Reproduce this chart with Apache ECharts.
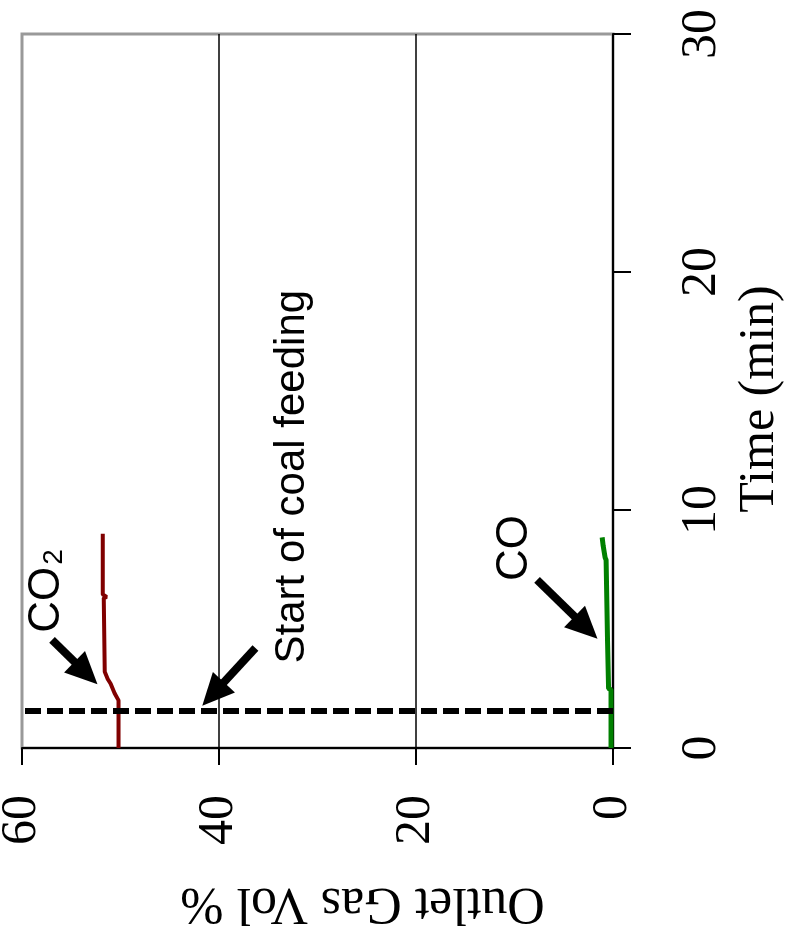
<!DOCTYPE html>
<html><head><meta charset="utf-8">
<script src="https://cdn.jsdelivr.net/npm/echarts@6/dist/echarts.min.js"></script>
<style>html,body{margin:0;padding:0;background:#fff}#c{width:790px;height:937px}</style>
</head><body><div id="c"></div>
<script>
// Time (min) and outlet gas vol %
const co2Time = [0, 2.0, 2.3, 2.7, 2.9, 3.2, 6.3, 6.35, 6.45, 9.0];
const co2Vol  = [50.2, 50.2, 50.6, 51.0, 51.3, 51.6, 51.7, 51.4, 51.8, 51.8];
const coTime  = [0, 2.45, 2.5, 4.4, 7.9, 8.0, 8.5, 8.85];
const coVol   = [0.2, 0.2, 0.45, 0.55, 0.7, 0.8, 1.0, 1.1];
const gasTicks  = [0, 20, 40, 60];
const timeTicks = [0, 10, 20, 30];
const coalFeedTime = 1.55;

// annotations (data space: [gas %, time])
const noteCO2   = [57.5, 6.6];
const noteStart = [32.5, 11.4];
const noteCO    = [9.95, 8.4];
const arrowCO2   = [[56.95, 4.54], [53.5, 3.15]];
const arrowStart = [[36.3, 4.2], [40.6, 2.27]];
const arrowCO    = [[7.71, 7.06], [2.74, 5.06]];

const serif = 'Liberation Serif';
const sans = 'Liberation Sans';

const chart = echarts.init(document.getElementById('c'), null, {renderer: 'canvas'});
const zip = (a, b) => a.map((v, i) => [b[i], v]);

chart.setOption({
  animation: false,
  backgroundColor: '#fff',
  grid: {left: 22, right: 177, top: 34, bottom: 189, containLabel: false, outerBoundsMode: 'none',
         show: true, borderColor: '#999', borderWidth: 3, backgroundColor: 'transparent'},
  xAxis: {
    type: 'value', inverse: true, position: 'bottom',
    min: gasTicks[0], max: gasTicks[gasTicks.length - 1], interval: gasTicks[1] - gasTicks[0],
    name: 'Outlet Gas Vol %', nameLocation: 'middle', nameRotate: 180, nameGap: 129,
    nameTextStyle: {fontFamily: serif, fontSize: 52, color: '#000', padding: [0, 90, 0, 0]},
    axisLine: {show: true, lineStyle: {color: '#000', width: 2}},
    axisTick: {show: true, inside: false, length: 17, lineStyle: {color: '#000', width: 2}},
    axisLabel: {rotate: 90, margin: 47, fontFamily: serif, fontSize: 50, color: '#000'},
    splitLine: {show: true, showMinLine: false, showMaxLine: false, lineStyle: {color: '#000', width: 1.5}}
  },
  yAxis: {
    type: 'value', position: 'right',
    min: timeTicks[0], max: timeTicks[timeTicks.length - 1], interval: timeTicks[1] - timeTicks[0],
    name: 'Time (min)', nameLocation: 'middle', nameRotate: 90, nameGap: 121,
    nameTextStyle: {fontFamily: serif, fontSize: 50, color: '#000', padding: [0, 16, 0, 0]},
    axisLine: {show: true, lineStyle: {color: '#000', width: 2}},
    axisTick: {show: true, inside: false, length: 18, lineStyle: {color: '#000', width: 2}},
    axisLabel: {rotate: 90, margin: 64, fontFamily: serif, fontSize: 50, color: '#000'},
    splitLine: {show: false}
  },
  series: [
    {
      name: 'CO2', type: 'line', data: zip(co2Time, co2Vol), showSymbol: false, symbol: 'none',
      lineStyle: {color: '#800000', width: 4}, z: 3,
      markLine: {
        silent: true, symbol: ['none', 'none'], label: {show: false},
        lineStyle: {color: '#000', width: 6, type: [16, 6]},
        data: [{yAxis: coalFeedTime}]
      }
    },
    {
      name: 'CO', type: 'line', data: zip(coTime, coVol), showSymbol: false, symbol: 'none',
      lineStyle: {color: '#008000', width: 5}, z: 3
    },
    {
      name: 'notes', type: 'scatter', symbolSize: 0, silent: true, z: 5,
      itemStyle: {opacity: 1, color: '#000'},
      label: {show: true, position: 'inside', rotate: 90, fontFamily: sans, fontSize: 44, color: '#000', opacity: 1},
      data: [
        {value: noteCO2, label: {formatter: '{a|CO}{s|2}', rich: {a: {fontFamily: sans, fontSize: 44, color: '#000', verticalAlign: 'bottom'}, s: {fontFamily: sans, fontSize: 28, color: '#000', verticalAlign: 'bottom', padding: [0, 0, 0, 2]}}}},
        {value: noteStart, label: {formatter: 'Start of coal feeding', fontSize: 42}},
        {value: noteCO, label: {formatter: 'CO'}}
      ],
      markLine: {
        silent: true, symbol: ['none', 'triangle'], symbolSize: [30, 32], label: {show: false},
        lineStyle: {color: '#000', width: 8, type: 'solid', opacity: 1},
        itemStyle: {color: '#000', opacity: 1},
        data: [arrowCO2, arrowStart, arrowCO].map(a => [{coord: a[0]}, {coord: a[1]}])
      }
    }
  ]
});
</script>
</body></html>
